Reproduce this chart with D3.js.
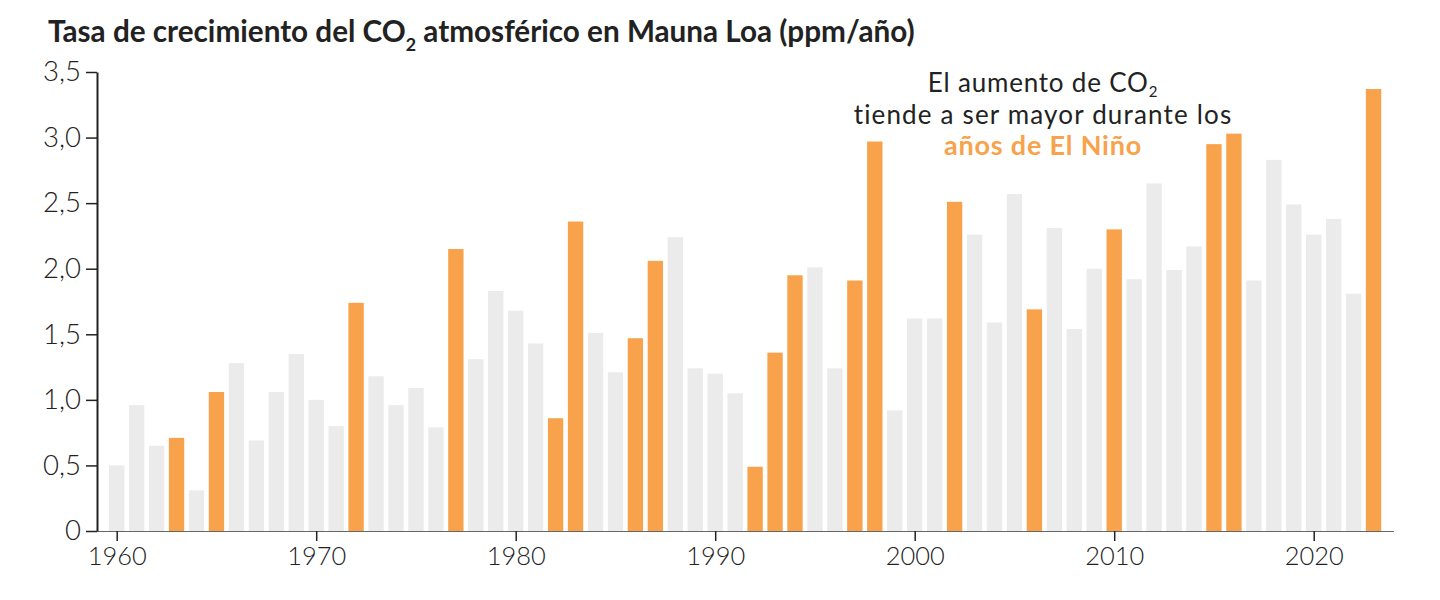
<!DOCTYPE html>
<html>
<head>
<meta charset="utf-8">
<script src="https://cdn.jsdelivr.net/npm/d3@7"></script>
<style>
  html, body { margin: 0; padding: 0; background: #fff; }
  svg { display: block; }
  text { font-family: "Lato", "Noto Sans", sans-serif; }
</style>
</head>
<body>
<svg id="chart" width="1440" height="600"></svg>
<script>
// ---- Data ----
const years = d3.range(1960, 2024);
const growthRates = [
  0.50, 0.96, 0.65, 0.71, 0.31, 1.06, 1.28, 0.69, 1.06, 1.35,
  1.00, 0.80, 1.74, 1.18, 0.96, 1.09, 0.79, 2.15, 1.31, 1.83,
  1.68, 1.43, 0.86, 2.36, 1.51, 1.21, 1.47, 2.06, 2.24, 1.24,
  1.20, 1.05, 0.49, 1.36, 1.95, 2.01, 1.24, 1.91, 2.97, 0.92,
  1.62, 1.62, 2.51, 2.26, 1.59, 2.57, 1.69, 2.31, 1.54, 2.00,
  2.30, 1.92, 2.65, 1.99, 2.17, 2.95, 3.03, 1.91, 2.83, 2.49,
  2.26, 2.38, 1.81, 3.37
];
const elNinoYears = [1963, 1965, 1972, 1977, 1982, 1983, 1986, 1987, 1992, 1993, 1994,
                     1997, 1998, 2002, 2006, 2010, 2015, 2016, 2023];
const yTicks = [0, 0.5, 1.0, 1.5, 2.0, 2.5, 3.0, 3.5];
const xTicks = [1960, 1970, 1980, 1990, 2000, 2010, 2020];
const titleParts = ["Tasa de crecimiento del CO", "2", " atmosférico en Mauna Loa (ppm/año)"];
const noteLine1 = ["El aumento de CO", "2"];
const noteLine2 = "tiende a ser mayor durante los";
const noteLine3 = "años de El Niño";

const data = years.map((yr, i) => ({ year: yr, value: growthRates[i], nino: elNinoYears.includes(yr) }));

// ---- Layout ----
const ORANGE = "#F8A34C";
const GREY = "#EBEBEB";
const INK = "#222222";

const svg = d3.select("#chart");

const x = d3.scaleLinear().domain([1959, 2024]).range([96.75, 1393.5]);
const y = d3.scaleLinear().domain([0, 3.5]).range([531, 72]);
const step = x(1961) - x(1960);
const barW = step * 0.77;

function fitWidth(sel, base, target) {
  const w = sel.node().getComputedTextLength();
  const s = target / w;
  sel.style("font-size", (base * s) + "px");
  return s;
}
function spreadTo(sel, target) {
  const node = sel.node();
  const n = sel.text().length;
  const w = node.getComputedTextLength();
  const ls = (target - w) / Math.max(1, n - 1);
  sel.style("letter-spacing", ls + "px");
}

// x axis
const xAxis = d3.axisBottom(x)
  .tickValues(xTicks)
  .tickFormat(d3.format("d"))
  .tickSize(10)
  .tickSizeOuter(0)
  .tickPadding(6);

const gx = svg.append("g")
  .attr("transform", `translate(0,${y(0)})`)
  .call(xAxis);
gx.select(".domain").attr("stroke", "#666").attr("stroke-width", 1.2);
gx.selectAll(".tick line").attr("stroke", INK).attr("stroke-width", 1.5);
gx.selectAll(".tick text")
  .attr("fill", INK)
  .style("font-size", "26px")
  .style("font-weight", 300);
{
  const t = gx.select(".tick text");
  const s = 59 / t.node().getComputedTextLength();
  gx.selectAll(".tick text").style("font-size", (26 * s) + "px");
}

// bars
svg.append("g")
  .selectAll("rect")
  .data(data)
  .join("rect")
  .attr("x", d => x(d.year) - barW / 2)
  .attr("width", barW)
  .attr("y", d => y(d.value))
  .attr("height", d => y(0) - y(d.value))
  .attr("fill", d => d.nino ? ORANGE : GREY);

// y axis
const fmt = d => d === 0 ? "0" : d3.format(".1f")(d).replace(".", ",");
const yAxis = d3.axisLeft(y)
  .tickValues(yTicks)
  .tickFormat(fmt)
  .tickSize(11)
  .tickSizeOuter(0)
  .tickPadding(5);
const gy = svg.append("g")
  .attr("transform", `translate(97,0)`)
  .call(yAxis);
gy.select(".domain").attr("stroke", INK).attr("stroke-width", 2);
gy.selectAll(".tick line").attr("stroke", INK).attr("stroke-width", 1.5);
gy.selectAll(".tick text")
  .attr("fill", INK)
  .style("font-size", "26px")
  .style("font-weight", 300);
{
  const t = gy.selectAll(".tick text").filter(d => d === 3.5);
  const s = 38 / t.node().getComputedTextLength();
  gy.selectAll(".tick text").style("font-size", (26 * s) + "px");
}

// Title
const title = svg.append("text")
  .attr("x", 48)
  .attr("y", 42)
  .attr("fill", INK)
  .style("font-size", "25px")
  .style("font-weight", 700);
title.append("tspan").text(titleParts[0]);
title.append("tspan").text(titleParts[1]).attr("dy", 9).style("font-size", "15px");
title.append("tspan").text(titleParts[2]).attr("dy", -9);
{
  const s = fitWidth(title, 25, 867);
  title.selectAll("tspan").filter((d, i) => i === 1).style("font-size", (15 * s) + "px");
}

// Annotation
const cx = 1043;
const noteSize = 26;

const n1 = svg.append("text")
  .attr("x", cx).attr("y", 92)
  .attr("text-anchor", "middle")
  .attr("fill", INK)
  .style("font-size", noteSize + "px")
  .style("font-weight", 400)
  .style("letter-spacing", "0.8px");
n1.append("tspan").text(noteLine1[0]);
n1.append("tspan").text(noteLine1[1]).attr("dy", 5).style("font-size", "15px");

const n2 = svg.append("text")
  .attr("x", cx).attr("y", 124)
  .attr("text-anchor", "middle")
  .attr("fill", INK)
  .style("font-size", noteSize + "px")
  .style("font-weight", 400)
  .text(noteLine2);
spreadTo(n2, 378);

svg.append("text")
  .attr("x", cx).attr("y", 155)
  .attr("text-anchor", "middle")
  .attr("fill", ORANGE)
  .style("font-size", "27px")
  .style("font-weight", 700)
  .style("letter-spacing", "0.8px")
  .text(noteLine3);
</script>
</body>
</html>
